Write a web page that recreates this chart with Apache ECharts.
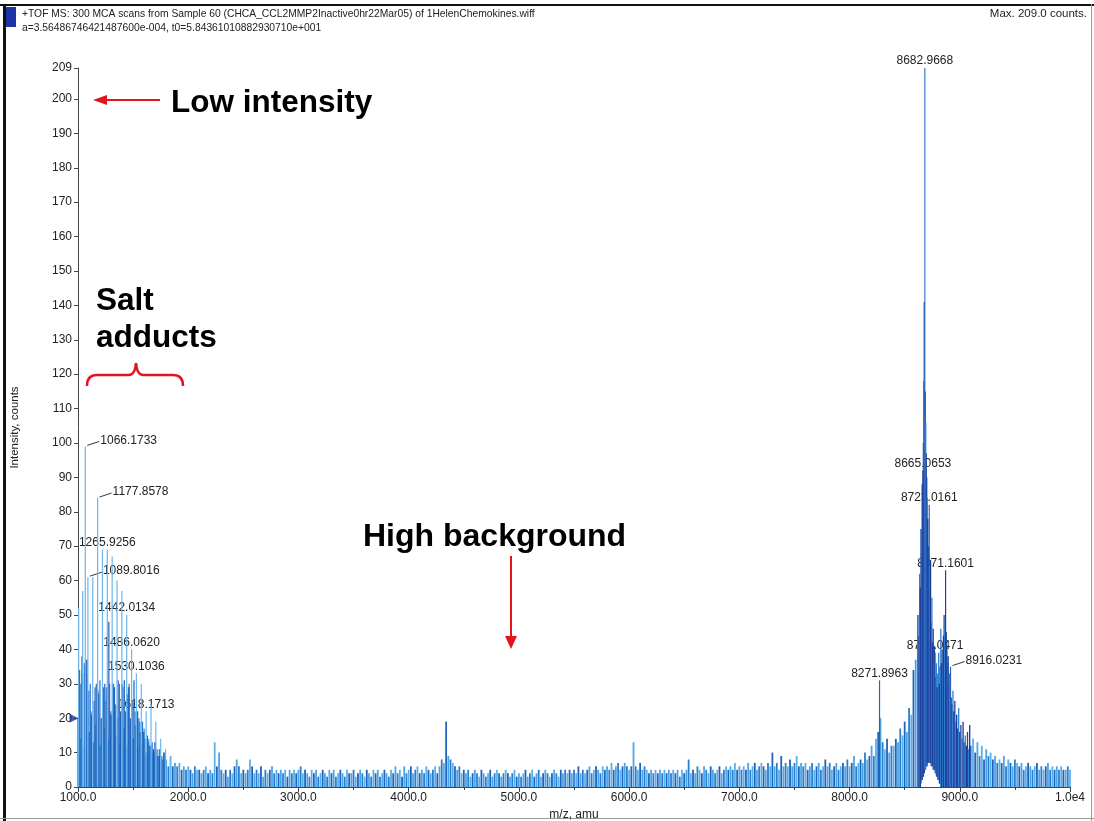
<!DOCTYPE html>
<html>
<head>
<meta charset="utf-8">
<script src="https://cdn.jsdelivr.net/npm/echarts@6/dist/echarts.min.js"></script>
<style>
  html, body { margin: 0; padding: 0; background: #fff; }
  #chart { width: 1094px; height: 821px; }
</style>
</head>
<body>
<div id="chart"></div>
<script>
// ---- Spectrum data (m/z in amu, intensity in counts) ----
const headerLine1 = '+TOF MS: 300 MCA scans from Sample 60 (CHCA_CCL2MMP2Inactive0hr22Mar05) of 1HelenChemokines.wiff';
const headerLine2 = 'a=3.56486746421487600e-004, t0=5.84361010882930710e+001';
const maxCountsText = 'Max. 209.0 counts.';

// Baseline trace, one stick every mzStep amu
const mzStep = 20;
const mzStartLow = 1000;
const baselineLow = [
  20,14,33,12,37,16,22,13,18,28,
  12,20,17,29,14,21,30,15,20,13,
  30,17,12,29,15,14,22,11,19,13,
  17,10,14,12,10,13,9,11,8,10,
  8,6,9,6,7,6,7,5,6,5,
  6,5,4,6,5,5,4,5,6,4,
  5,4,13,6,10,5,4,5,3,5,
  4,6,8,6,4,5,4,5,8,6,
  4,5,4,6,3,5,4,5,6,4,
  5,4,5,4,5,3,5,4,5,4,
  5,6,4,5,4,3,5,4,5,3,
  4,5,4,3,5,4,5,3,4,5,
  4,3,5,4,4,5,3,4,5,4,
  3,5,4,3,5,4,5,3,4,5,
  4,3,5,4,6,4,5,3,6,4,
  5,6,4,5,6,4,5,4,6,5,
  4,5,6,4,6,8,7,19,9,8,
  7,6,5,6,4,5,4,5,3,4,
  5,4,3,5,4,3,4,5,3,4,
  5,4,3,4,5,4,3,4,5,3,
  4,3,4,5,3,4,5,3,4,5,
  3,4,5,4,3,4,5,4,3,5,
  4,5,4,5,4,5,4,6,4,5,
  4,5,6,4,5,6,5,4,6,5,
  6,5,7,5,6,7,5,6,7,6,
  5,6,13,6,5,7,5,6,5,4,
  5,4,5,4,5,4,5,4,5,4,
  5,4,5,3,5,4,5,8,4,5,
  4,6,5,4,6,5,4,6,5,4,
  5,6,4,5,6,5,6,5,7,5,
  6,5,6,5,7,5,6,7,5,6,
  7,6,5,7,6,10,6,7,5,9,
  6,7,6,8,6,7,9,6,7,6,
  7,5,6,7,5,6,7,5,6,8,
  6,7,5,6,7,5,6,7,6,8,
  6,7,9,6,7,8,7,10,8,9,
  12,9,14,16,20,13,11,14,10,12,
  12,14,13,17,15,19,16,23,21,34,
  37,50
];
const mzStartHigh = 9120;
const baselineHigh = [
  14,10,13,9,12,8,11,9,10,8,
  9,7,8,7,9,6,8,7,6,8,
  7,6,7,5,6,7,6,5,6,7,
  5,6,5,6,7,5,6,5,6,5,
  6,5,5,6,5
];

// Salt adduct series: [m/z, intensity]
const saltAdductMajor = [
  [1006, 52], [1043, 57], [1133.8, 61], [1221.9, 69], [1309.97, 67], [1354.0, 60],
  [1398.0, 57], [1574.1, 30], [1662.2, 24], [1706.2, 19], [1750.2, 14], [1794.3, 11],
  [1838.3, 8]
];
const saltAdductMinor = [
  [1014, 34], [1026, 30], [1036, 38], [1058, 36], [1074, 37], [1081, 33], [1098, 28],
  [1111, 30], [1120, 21], [1146, 25], [1155, 29], [1166, 30], [1188, 27], [1199, 31],
  [1210, 20], [1232, 29], [1243, 30], [1254, 25], [1280, 48], [1287, 30], [1298, 22],
  [1320, 30], [1331, 29], [1342, 24], [1364, 31], [1375, 30], [1386, 22], [1408, 29],
  [1420, 31], [1430, 22], [1453, 27], [1464, 30], [1475, 20], [1497, 25], [1508, 31],
  [1519, 18], [1541, 22], [1552, 20], [1563, 16], [1585, 19], [1596, 16], [1607, 14],
  [1629, 15], [1640, 13], [1651, 12], [1673, 13], [1684, 11], [1695, 10], [1717, 11],
  [1728, 9], [1739, 9], [1761, 9], [1772, 8], [1783, 8]
];

// Protein charge envelope: [m/z, trace floor, intensity]
const proteinEnvelope = [
  [8630, 0, 44], [8636, 0, 62], [8642, 0, 58], [8648, 1, 75], [8654, 2, 68], [8659, 2, 88],
  [8670, 3, 100], [8674, 4, 118], [8678, 4, 141], [8687, 5, 115], [8691, 5, 106],
  [8695, 6, 97], [8700, 6, 90], [8705, 6, 84], [8710, 7, 78], [8716, 7, 70], [8729, 7, 58],
  [8735, 7, 66], [8741, 6, 48], [8747, 6, 55], [8753, 6, 42], [8759, 5, 46], [8765, 5, 36],
  [8770, 5, 41], [8782, 4, 32], [8788, 3, 36], [8795, 3, 29], [8802, 2, 33], [8809, 2, 39],
  [8815, 1, 30], [8821, 1, 35], [8828, 0, 46], [8834, 0, 36], [8840, 0, 40], [8846, 0, 33],
  [8852, 0, 44], [8858, 0, 50], [8864, 0, 47], [8877, 0, 45], [8883, 0, 41], [8889, 0, 36],
  [8895, 0, 38], [8901, 0, 30], [8907, 0, 33], [8922, 0, 26], [8930, 0, 24], [8938, 0, 28],
  [8946, 0, 22], [8955, 0, 25], [8963, 0, 19], [8972, 0, 21], [8980, 0, 17], [8990, 0, 23],
  [9000, 0, 16], [9010, 0, 18], [9020, 0, 14], [9030, 0, 19], [9040, 0, 13], [9050, 0, 15],
  [9060, 0, 12], [9070, 0, 16], [9080, 0, 11], [9090, 0, 18], [9100, 0, 12]
];

// Annotated peaks: [m/z, trace floor, intensity]
const labelledPeaks = [
  [1066.1733, 0, 99], [1089.8016, 0, 61], [1177.8578, 0, 84], [1265.9256, 0, 69],
  [1442.0134, 0, 50], [1486.0620, 0, 40], [1530.1036, 0, 33], [1618.1713, 0, 22],
  [8271.8963, 0, 31], [8665.0653, 3, 92], [8682.9668, 5, 209], [8723.0161, 7, 82],
  [8776.0471, 4, 39], [8871.1601, 0, 63], [8916.0231, 0, 35]
];
// Peaks whose m/z tag sits to the right on a short leader line
const leaderLabels = ['1066.1733', '1177.8578', '1089.8016', '8916.0231'];

// Threshold marker on the intensity axis
const thresholdLevel = 20;

const xMin = 1000, xMax = 10000, xInterval = 1000;
const yMin = 0, yMax = 209, yInterval = 10;

// ---- Build stick lists ----
const baselineSticks = baselineLow.map((h, i) => [mzStartLow + i * mzStep, 0, h])
  .concat(baselineHigh.map((h, i) => [mzStartHigh + i * mzStep, 0, h]));
const majorSticks = saltAdductMajor.map(d => [d[0], 0, d[1]]);
const minorSticks = saltAdductMinor.map(d => [d[0], 0, d[1]]);

const FONT = '"Liberation Sans", Arial, sans-serif';

function stickRenderer(colors, width) {
  return function (params, api) {
    const mz = api.value(0);
    const p0 = api.coord([mz, api.value(1)]);
    const p1 = api.coord([mz, api.value(2)]);
    return {
      type: 'line',
      shape: { x1: p0[0], y1: p0[1], x2: p1[0], y2: p1[1] },
      style: { stroke: colors[params.dataIndex % colors.length], lineWidth: width }
    };
  };
}

function stickSeries(name, data, colors, width) {
  return {
    name, type: 'custom', data,
    encode: { x: 0, y: 2 },
    renderItem: stickRenderer(colors, width),
    progressive: 0, animation: false, silent: true
  };
}

function renderPeakLabel(params, api) {
  const mz = api.value(0);
  const top = api.coord([mz, api.value(2)]);
  const text = mz.toFixed(4);
  const textStyle = { text, fill: '#222', font: '12px ' + FONT };
  if (leaderLabels.indexOf(text) >= 0) {
    return {
      type: 'group',
      children: [
        { type: 'line', shape: { x1: top[0] + 2, y1: top[1] - 1, x2: top[0] + 14, y2: top[1] - 5 },
          style: { stroke: '#333', lineWidth: 1 } },
        { type: 'text', x: top[0] + 15, y: top[1] - 6,
          style: Object.assign({ align: 'left', verticalAlign: 'middle' }, textStyle) }
      ]
    };
  }
  return {
    type: 'text', x: top[0], y: top[1] - 1,
    style: Object.assign({ align: 'center', verticalAlign: 'bottom' }, textStyle)
  };
}

const chart = echarts.init(document.getElementById('chart'), null, { renderer: 'canvas' });
const RED = '#e2141c';
const redStroke = { stroke: RED, lineWidth: 2.5, fill: null };

chart.setOption({
  animation: false,
  textStyle: { fontFamily: FONT },
  grid: { left: 78, right: 24, top: 68, bottom: 34, containLabel: false, outerBoundsMode: 'none' },
  xAxis: {
    type: 'value', min: xMin, max: xMax, interval: xInterval,
    name: 'm/z, amu', nameLocation: 'middle', nameGap: 20,
    nameTextStyle: { fontSize: 12, color: '#222' },
    axisLine: { show: true, lineStyle: { color: '#444', width: 1 } },
    axisTick: { show: true, length: 5, lineStyle: { color: '#444' } },
    minorTick: { show: true, splitNumber: 2, length: 3, lineStyle: { color: '#444' } },
    splitLine: { show: false },
    axisLabel: {
      fontSize: 12, color: '#222', margin: 5,
      formatter: v => v === 10000 ? '1.0e4' : v.toFixed(1)
    }
  },
  yAxis: {
    type: 'value', min: yMin, max: yMax, interval: yInterval,
    name: 'Intensity, counts', nameLocation: 'middle', nameGap: 57,
    nameTextStyle: { fontSize: 11.5, color: '#222' },
    axisLine: { show: true, lineStyle: { color: '#444', width: 1 } },
    axisTick: { show: true, length: 4, lineStyle: { color: '#444' } },
    splitLine: { show: false },
    axisLabel: { fontSize: 12, color: '#222', margin: 6 }
  },
  series: [
    {
      name: 'labels', type: 'custom', data: labelledPeaks,
      encode: { x: 0, y: 2 }, renderItem: renderPeakLabel,
      clip: false, progressive: 0, animation: false, silent: true
    },
    stickSeries('baseline', baselineSticks, ['#4aa5e8', '#2b7dd0', '#5ab0ea', '#1f63bd'], 1.8),
    stickSeries('salt minor', minorSticks, ['#1f5fb8', '#2a74c9'], 1.2),
    stickSeries('salt major', majorSticks, ['#6ab6ee'], 1.2),
    stickSeries('envelope', proteinEnvelope, ['#1d45a3', '#2f7fd2', '#183b94'], 1.3),
    stickSeries('peaks', labelledPeaks, ['#6ab6ee', '#6ab6ee', '#6ab6ee', '#6ab6ee', '#6ab6ee',
      '#6ab6ee', '#6ab6ee', '#6ab6ee', '#2a62bb', '#1d45a3', '#3a78c8', '#2a62bb', '#2a62bb',
      '#1d3f9a', '#2a62bb'], 1.2),
    {
      name: 'threshold', type: 'scatter', data: [[xMin, thresholdLevel]],
      symbol: 'triangle', symbolSize: [9, 9], symbolRotate: -90, symbolOffset: [-4, 0],
      itemStyle: { color: '#1b2f8f' }, clip: false, silent: true, z: 5
    }
  ],
  graphic: [
    // frame
    { type: 'rect', shape: { x: 0, y: 4, width: 1094, height: 2 }, style: { fill: '#111' } },
    { type: 'rect', shape: { x: 3, y: 4, width: 3, height: 817 }, style: { fill: '#111' } },
    { type: 'line', shape: { x1: 1091.5, y1: 4, x2: 1091.5, y2: 821 }, style: { stroke: '#999', lineWidth: 1 } },
    { type: 'line', shape: { x1: 0, y1: 818.5, x2: 1094, y2: 818.5 }, style: { stroke: '#999', lineWidth: 1 } },
    // header
    { type: 'rect', shape: { x: 6, y: 7, width: 10, height: 20 }, style: { fill: '#1d34a6' } },
    { type: 'text', x: 22, y: 14, style: { text: headerLine1, font: '10.3px ' + FONT, fill: '#222', verticalAlign: 'middle' } },
    { type: 'text', x: 22, y: 28, style: { text: headerLine2, font: '10.3px ' + FONT, fill: '#222', verticalAlign: 'middle' } },
    { type: 'text', x: 1087, y: 14, style: { text: maxCountsText, font: '11.5px ' + FONT, fill: '#222', align: 'right', verticalAlign: 'middle' } },
    // "Low intensity" callout
    { type: 'line', shape: { x1: 104, y1: 100, x2: 160, y2: 100 }, style: { stroke: RED, lineWidth: 2 } },
    { type: 'polygon', shape: { points: [[93, 100], [107, 95], [107, 105]] }, style: { fill: RED } },
    { type: 'text', x: 171, y: 103, style: { text: 'Low intensity', font: 'bold 31.5px ' + FONT, fill: '#000', verticalAlign: 'middle' } },
    // "Salt adducts" callout with curly brace
    { type: 'text', x: 96, y: 301, style: { text: 'Salt', font: 'bold 31.5px ' + FONT, fill: '#000', verticalAlign: 'middle' } },
    { type: 'text', x: 96, y: 338, style: { text: 'adducts', font: 'bold 31.5px ' + FONT, fill: '#000', verticalAlign: 'middle' } },
    { type: 'bezierCurve', shape: { x1: 87, y1: 386, x2: 97, y2: 375, cpx1: 87, cpy1: 375 }, style: redStroke },
    { type: 'line', shape: { x1: 97, y1: 375, x2: 129, y2: 375 }, style: redStroke },
    { type: 'bezierCurve', shape: { x1: 129, y1: 375, x2: 136, y2: 363, cpx1: 135, cpy1: 375 }, style: redStroke },
    { type: 'bezierCurve', shape: { x1: 136, y1: 363, x2: 143, y2: 375, cpx1: 137, cpy1: 375 }, style: redStroke },
    { type: 'line', shape: { x1: 143, y1: 375, x2: 173, y2: 375 }, style: redStroke },
    { type: 'bezierCurve', shape: { x1: 173, y1: 375, x2: 183, y2: 386, cpx1: 183, cpy1: 375 }, style: redStroke },
    // "High background" callout
    { type: 'text', x: 363, y: 537, style: { text: 'High background', font: 'bold 32px ' + FONT, fill: '#000', verticalAlign: 'middle' } },
    { type: 'line', shape: { x1: 511, y1: 556, x2: 511, y2: 638 }, style: { stroke: RED, lineWidth: 2 } },
    { type: 'polygon', shape: { points: [[511, 649], [505, 636], [517, 636]] }, style: { fill: RED } }
  ]
});
</script>
</body>
</html>
